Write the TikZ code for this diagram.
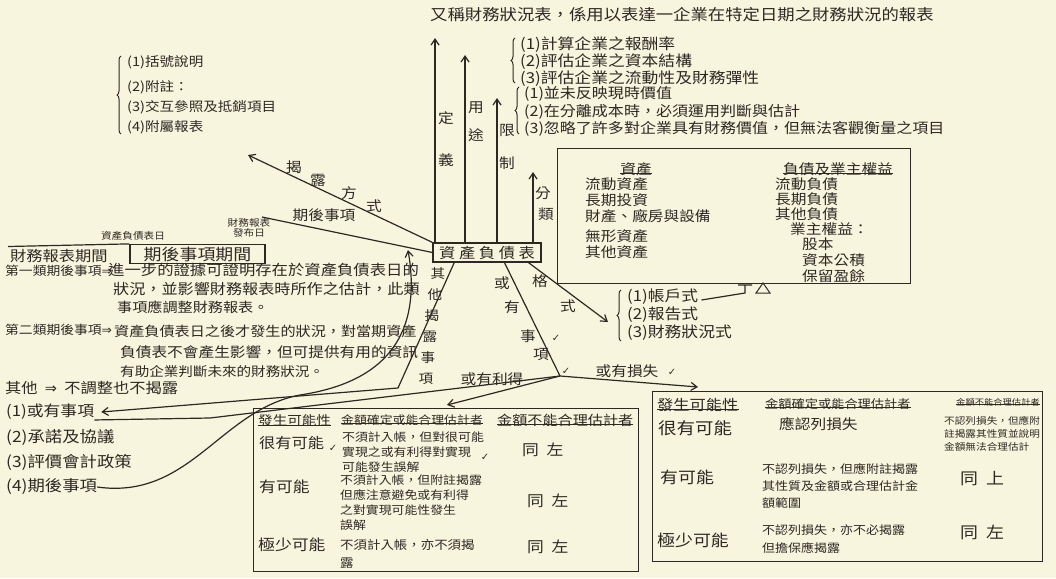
\documentclass[tikz,border=0pt]{standalone}
\usepackage{fontspec}
\newfontfamily\cjk[FakeStretch=1.12]{Noto Sans CJK TC}
\newfontfamily\dv{DejaVu Sans}
\usetikzlibrary{arrows.meta,decorations.pathreplacing,calc}
\definecolor{paper}{RGB}{248,245,222}
\definecolor{ink}{RGB}{45,40,35}
\newcommand{\fs}[1]{\fontsize{#1}{#1}\selectfont}
\begin{document}
\begin{tikzpicture}[x=1pt,y=-1pt,
  ln/.style={draw=ink,line width=1.2pt},
  ar/.style={ln,-{Straight Barb[length=6pt,width=8pt]}},
  t/.style={font=\cjk\fs{13},text=ink,inner sep=0pt,anchor=west},
  tc/.style={t,anchor=center,font=\cjk\fs{14}},
  ck/.style={inner sep=0pt,text=ink,font=\dv\fs{10}},
  br/.style={ln,line width=1pt,decorate,decoration={brace,amplitude=4pt}},
  ul/.style={ln,line width=1pt},
  tbl/.style={draw=ink,line width=1.2pt,inner sep=0pt,anchor=north west},
]
\fill[paper] (0,0) rectangle (1056,578);
\useasboundingbox (0,0) rectangle (1056,578);

% ---- centre
\node[draw=ink,line width=1.2pt,minimum width=108pt,minimum height=19pt,inner sep=0pt,
      font=\cjk\fs{14.5},text=ink] (bs) at (487,252.5) {資\ 產\ 負\ 債\ 表};

% ---- upward branches
\coordinate (defTip) at (435,38);
\coordinate (useTip) at (465,55);
\coordinate (limTip) at (497,98);
\coordinate (clsTip) at (533,172);
\draw[ar] (bs.north -| defTip) -- (defTip);
\draw[ar] (bs.north -| useTip) -- (useTip);
\draw[ar] (bs.north -| limTip) -- (limTip);
\draw[ar] (bs.north -| clsTip) -- (clsTip);
\node[tc] (defA) at (446,118) {定};
\node[tc] (defB) at (446,160) {義};
\node[tc] (useA) at (476,108) {用};
\node[tc] (useB) at (476,135) {途};
\node[tc] (limA) at (507,130) {限};
\node[tc] (limB) at (507,163) {制};
\node[tc] (clsA) at (543,193) {分};
\node[tc] (clsB) at (546,214) {類};

\node[t,font=\cjk\fs{15.5}] (defT) at (430,15) {又稱財務狀況表，係用以表達一企業在特定日期之財務狀況的報表};

\draw[br] (515,83) -- (515,38);
\node[t,font=\cjk\fs{15}] (use1) at (520,45) {(1)計算企業之報酬率};
\node[t,font=\cjk\fs{15}] (use2) at (520,62) {(2)評估企業之資本結構};
\node[t,font=\cjk\fs{15}] (use3) at (520,79) {(3)評估企業之流動性及財務彈性};

\draw[br] (519,134) -- (519,87);
\node[t,font=\cjk\fs{14.3}] (lim1) at (524,94) {(1)並未反映現時價值};
\node[t,font=\cjk\fs{14.3}] (lim2) at (524,112) {(2)在分離成本時，必須運用判斷與估計};
\node[t,font=\cjk\fs{14.3}] (lim3) at (524,129) {(3)忽略了許多對企業具有財務價值，但無法客觀衡量之項目};

% ---- classification box
\node[tbl,minimum width=353pt,minimum height=135pt] (clsBox) at (557,148) {};
\node[tc] (aHead) at (636,169) {資產};
\draw[ul] ([yshift=2pt]aHead.south west) -- ([yshift=2pt]aHead.south east);
\node[t,font=\cjk\fs{14}] (a1) at (585,184) {流動資產};
\node[t,font=\cjk\fs{14}] (a2) at (585,200) {長期投資};
\node[t,font=\cjk\fs{14}] (a3) at (585,216) {財產、廠房與設備};
\node[t,font=\cjk\fs{14}] (a4) at (585,236) {無形資產};
\node[t,font=\cjk\fs{14}] (a5) at (585,252) {其他資產};
\node[tc] (lHead) at (838,169) {負債及業主權益};
\draw[ul] ([yshift=2pt]lHead.south west) -- ([yshift=2pt]lHead.south east);
\node[t,font=\cjk\fs{14}] (l1) at (775,184) {流動負債};
\node[t,font=\cjk\fs{14}] (l2) at (775,199) {長期負債};
\node[t,font=\cjk\fs{14}] (l3) at (775,214) {其他負債};
\node[t,font=\cjk\fs{14}] (l4) at (790,229) {業主權益：};
\node[t,font=\cjk\fs{14}] (l5) at (802,244) {股本};
\node[t,font=\cjk\fs{14}] (l6) at (802,260) {資本公積};
\node[t,font=\cjk\fs{14}] (l7) at (802,276) {保留盈餘};

% ---- disclosure methods
\coordinate (discTip) at (248,155);
\draw[ar] (bs.north west) -- (discTip);
\node[tc] (dm1) at (294,167) {揭};
\node[tc] (dm2) at (318,180) {露};
\node[tc] (dm3) at (349,193) {方};
\node[tc] (dm4) at (374,206) {式};
\draw[br] (121,134) -- (121,56);
\node[t] (disc1) at (127,62) {(1)括號說明};
\node[t] (disc2) at (127,87) {(2)附註：};
\node[t] (disc3) at (127,107) {(3)交互參照及抵銷項目};
\node[t] (disc4) at (127,127) {(4)附屬報表};

% ---- subsequent events
\coordinate (seEnd) at (262,217);
\draw[ln] (bs.west) -- (seEnd);
\node[tc] (seLab) at (324,215) {期後事項};
\node[t,anchor=center,align=center,font=\cjk\fs{9.5}] (issue) at (249,228) {財務報表\\[1pt]發布日};
\node[t,anchor=center,font=\cjk\fs{9.5}] (bsDate) at (133,236) {資產負債表日};
\node[draw=ink,line width=1.2pt,minimum width=135pt,minimum height=19pt,inner sep=0pt,
      font=\cjk\fs{16},text=ink] (sePer) at (197.5,254) {期後事項期間};
\coordinate (tlStart) at (8,246.5);
\draw[ln] (sePer.north west) -- (tlStart);
\node[t,font=\cjk\fs{14.5}] (fsPer) at (10,256.5) {財務報表期間};

\node[t,font=\cjk\fs{12.3}] (t1a) at (5,271) {第一類期後事項{\dv ⇒}};
\node[t,font=\cjk\fs{14.6}] (t1b) at (108,270) {進一步的證據可證明存在於資產負債表日的};
\node[t,font=\cjk\fs{14.4}] (t1c) at (113,289) {狀況，並影響財務報表時所作之估計，此類};
\node[t,font=\cjk\fs{13.5}] (t1d) at (117,307) {事項應調整財務報表。};
\node[t,font=\cjk\fs{12.3}] (t2a) at (5,330) {第二類期後事項{\dv ⇒}};
\node[t,font=\cjk\fs{13.5}] (t2b) at (114,331) {資產負債表日之後才發生的狀況，對當期資產};
\node[t,font=\cjk\fs{14}] (t2c) at (120,352) {負債表不會產生影響，但可提供有用的資訊};
\node[t] (t2d) at (120,372) {有助企業判斷未來的財務狀況。};
\node[t,font=\cjk\fs{14.5}] (t3) at (5,388) {其他\ \ {\dv ⇒}\ \ 不調整也不揭露};

% ---- other disclosures list
\node[t,font=\cjk\fs{15}] (o1) at (6,412) {(1)或有事項};
\node[t,font=\cjk\fs{15.5}] (o2) at (6,437) {(2)承諾及協議};
\node[t,font=\cjk\fs{15.5}] (o3) at (6,462) {(3)評價會計政策};
\node[t,font=\cjk\fs{15.5}] (o4) at (6,487) {(4)期後事項};

\coordinate (othS) at ($(bs.south west)!0.2!(bs.south east)$);
\coordinate (othJ) at (398,388);
\draw[ar] (othS) -- (othJ) -- ([xshift=7pt]o1.east);
\node[tc,font=\cjk\fs{13}] (oth1) at (438,274) {其};
\node[tc,font=\cjk\fs{13}] (oth2) at (435,295) {他};
\node[tc,font=\cjk\fs{13}] (oth3) at (432,316) {揭};
\node[tc,font=\cjk\fs{13}] (oth4) at (430,337) {露};
\node[tc,font=\cjk\fs{13}] (oth5) at (428,358) {事};
\node[tc,font=\cjk\fs{13}] (oth6) at (426,379) {項};
\coordinate (seUp) at (408,250);
\draw[ar] (o4.east) .. controls (190,500) and (220,410) .. (300,395) .. controls (400,380) and (420,320) .. (seUp);

% ---- format
\coordinate (fmtTip) at (608,322);
\draw[ar] ($(bs.south west)!0.88!(bs.south east)$) -- (fmtTip);
\node[tc] (fmA) at (540,281) {格};
\node[tc] (fmB) at (568,306) {式};
\draw[br] (621,341) -- (621,290);
\node[t,font=\cjk\fs{15}] (f1) at (627,297) {(1)帳戶式};
\node[t,font=\cjk\fs{15}] (f2) at (627,315) {(2)報告式};
\node[t,font=\cjk\fs{15}] (f3) at (627,333) {(3)財務狀況式};
\coordinate (tA) at (745,293);
\draw[ln] (f1.east) ++(3pt,-3pt) -- (tA) -- ++(0,-8) ++(-7,0) -- ++(14,0);
\draw[ln,line width=1pt] (756,293) -- (770,293) -- (763,283) -- cycle;

% ---- contingencies
\coordinate (contJ) at (560,376);
\draw[ln] ($(bs.south west)!0.66!(bs.south east)$) -- (contJ);
\node[tc] (ciA) at (502,283) {或};
\node[tc] (ciB) at (512,307) {有};
\node[tc] (ciC) at (528,336) {事};
\node[tc] (ciD) at (541,355) {項};
\node[ck] (ck1) at (556,338) {✓};
\coordinate (lossTip) at (698,387);
\coordinate (gainTip) at (447,405);
\draw[ar] (contJ) -- (lossTip);
\draw[ar] (contJ) -- (gainTip);
\node[ck] (ck2) at (566,371) {✓};
\node[tc] (lossLab) at (627,371) {或有損失};
\node[ck] (ck3) at (672,372) {✓};
\node[tc] (gainLab) at (492,379) {或有利得};
\draw[ln] (o1.south east) -- (210,418) -- (contJ);

% ---- gain table
\node[tbl,minimum width=385pt,minimum height=163pt] (gTbl) at (253,408) {};
\node[t,font=\cjk\fs{13}] (gh1) at (258,421) {發生可能性};
\node[t,font=\cjk\fs{11.5}] (gh2) at (341,420) {金額確定或能合理估計者};
\node[t,font=\cjk\fs{13.5}] (gh3) at (497,420) {金額不能合理估計者};
\foreach \h in {gh1,gh2,gh3}{\draw[ul] ([yshift=2pt]\h.south west) -- ([yshift=2pt]\h.south east);}
\node[t,font=\cjk\fs{14.5}] (gr1) at (259,443) {很有可能};
\node[ck] (ck4) at (333,448) {✓};
\node[t,font=\cjk\fs{11.5}] (g11) at (342,437) {不須計入帳，但對很可能};
\node[t,font=\cjk\fs{11.5}] (g12) at (342,452) {實現之或有利得對實現};
\node[t,font=\cjk\fs{11.5}] (g13) at (342,467) {可能發生誤解};
\node[ck] (ck5) at (485,457) {✓};
\node[t,font=\cjk\fs{15}] (g13b) at (522,450) {同\ \ 左};
\node[t,font=\cjk\fs{15}] (gr2) at (259,487) {有可能};
\node[t,font=\cjk\fs{11.5}] (g21) at (340,480) {不須計入帳，但附註揭露};
\node[t,font=\cjk\fs{11.5}] (g22) at (340,495) {但應注意避免或有利得};
\node[t,font=\cjk\fs{11.5}] (g23) at (340,510) {之對實現可能性發生};
\node[t,font=\cjk\fs{11.5}] (g24) at (340,525) {誤解};
\node[t,font=\cjk\fs{15}] (g23b) at (527,501) {同\ \ 左};
\node[t,font=\cjk\fs{15}] (gr3) at (258,545) {極少可能};
\node[t,font=\cjk\fs{12}] (g31) at (340,545) {不須計入帳，亦不須揭};
\node[t,font=\cjk\fs{12}] (g32) at (340,563) {露};
\node[t,font=\cjk\fs{15}] (g33b) at (527,547) {同\ \ 左};

% ---- loss table
\node[tbl,minimum width=390pt,minimum height=170pt] (lTbl) at (652,391) {};
\node[t,font=\cjk\fs{14.5}] (lh1) at (657,405) {發生可能性};
\node[t,font=\cjk\fs{11.8}] (lh2) at (765,404) {金額確定或能合理估計者};
\node[t,font=\cjk\fs{8.3}] (lh3) at (956,402) {金額不能合理估計者};
\foreach \h in {lh1,lh2,lh3}{\draw[ul] ([yshift=2pt]\h.south west) -- ([yshift=2pt]\h.south east);}
\node[t,font=\cjk\fs{16.5}] (lr1) at (658,428) {很有可能};
\node[t,font=\cjk\fs{14}] (l11) at (779,424) {應認列損失};
\node[t,font=\cjk\fs{9.5}] (l12) at (944,421) {不認列損失，但應附};
\node[t,font=\cjk\fs{9.5}] (l13) at (944,434) {註揭露其性質並說明};
\node[t,font=\cjk\fs{9.5}] (l14) at (944,447) {金額無法合理估計};
\node[t,font=\cjk\fs{16}] (lr2) at (660,477) {有可能};
\node[t,font=\cjk\fs{11.6}] (l21) at (762,469) {不認列損失，但應附註揭露};
\node[t,font=\cjk\fs{11.6}] (l22) at (762,486) {其性質及金額或合理估計金};
\node[t,font=\cjk\fs{11.6}] (l23) at (762,503) {額範圍};
\node[t,font=\cjk\fs{16}] (l24) at (960,479) {同\ \ 上};
\node[t,font=\cjk\fs{16}] (lr3) at (657,540) {極少可能};
\node[t,font=\cjk\fs{11.6}] (l31) at (762,530) {不認列損失，亦不必揭露};
\node[t,font=\cjk\fs{11.6}] (l32) at (762,548) {但擔保應揭露};
\node[t,font=\cjk\fs{16}] (l34) at (960,532) {同\ \ 左};
\end{tikzpicture}
\end{document}
